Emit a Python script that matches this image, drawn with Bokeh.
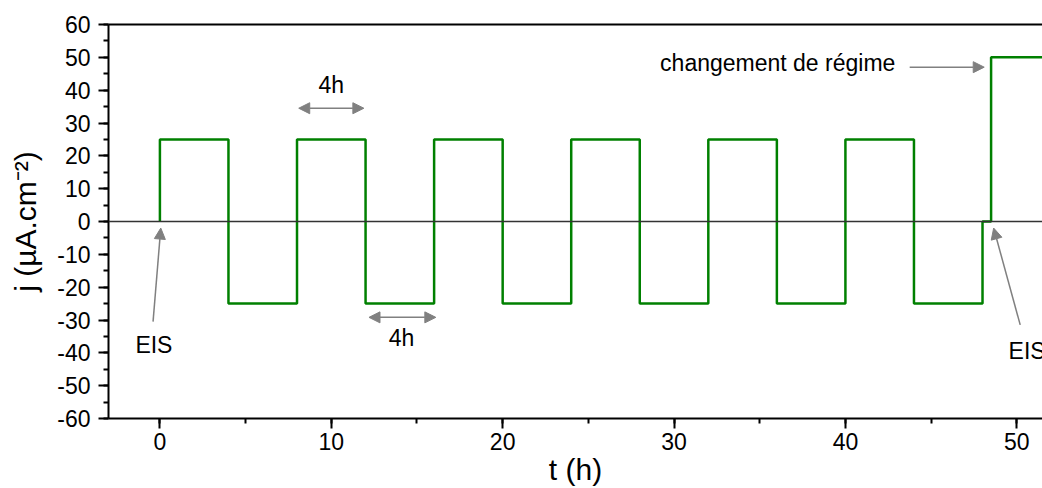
from bokeh.plotting import figure
from bokeh.models import (Range1d, SingleIntervalTicker, FixedTicker, LinearAxis, Arrow,
                          NormalHead, Label, Span, PrintfTickFormatter)
from bokeh.embed import file_html
from bokeh.resources import INLINE

# Data
times = [0, 0, 4, 8, 12, 16, 20, 24, 28, 32, 36, 40, 44, 48, 48.5, 53]
current = [0, 25, -25, 25, -25, 25, -25, 25, -25, 25, -25, 25, -25, 0, 50, 50]
x_ticks_interval = 10
y_ticks_interval = 10

FONT = "Liberation Sans"
GREEN = "#008000"
GREY = "#808080"

p = figure(width=1042, height=488, output_backend="svg", toolbar_location=None,
           x_range=Range1d(-3, 51.5), y_range=Range1d(-60, 60),
           min_border_left=108, min_border_right=0, min_border_top=24, min_border_bottom=69)
p.grid.visible = False
p.outline_line_color = None
p.background_fill_color = "white"

for ax, interval in ((p.xaxis[0], x_ticks_interval), (p.yaxis[0], y_ticks_interval)):
    ax.ticker = SingleIntervalTicker(interval=interval, num_minor_ticks=2)
    ax.formatter = PrintfTickFormatter(format="%d")
    ax.axis_line_width = 2
    ax.axis_line_color = "black"
    ax.major_tick_line_width = 2
    ax.minor_tick_line_width = 2
    ax.major_tick_in = 0
    ax.minor_tick_in = 0
    ax.major_tick_out = 10
    ax.minor_tick_out = 5
    ax.major_label_text_font = FONT
    ax.major_label_text_font_size = "23px"
    ax.major_label_text_color = "black"
    ax.axis_label_text_font = FONT
    ax.axis_label_text_font_size = "30px"
    ax.axis_label_text_font_style = "normal"
    ax.axis_label_text_color = "black"

p.xaxis[0].axis_label = "t (h)"
p.xaxis[0].axis_label_standoff = 0
p.xaxis[0].major_label_standoff = 4
p.yaxis[0].axis_label = "j (µA.cm⁻²)"
p.yaxis[0].axis_label_standoff = 12
p.yaxis[0].major_label_standoff = 8

top = LinearAxis(ticker=FixedTicker(ticks=[]), axis_line_width=2, axis_line_color="black",
                 major_tick_out=0, major_tick_in=0, minor_tick_out=0, minor_tick_in=0,
                 major_label_standoff=0)
p.add_layout(top, "above")

p.add_layout(Span(location=0, dimension="width", line_color="#333333", line_width=1.5))

p.step(times, current, mode="after", line_color=GREEN, line_width=2.5)

def arrow(x0, y0, x1, y1, both=False):
    end = NormalHead(size=11, fill_color=GREY, line_color=GREY)
    start = NormalHead(size=11, fill_color=GREY, line_color=GREY) if both else None
    p.add_layout(Arrow(x_start=x0, y_start=y0, x_end=x1, y_end=y1, end=end, start=start,
                       line_color=GREY, line_width=1.5))

def label(x, y, text):
    p.add_layout(Label(x=x, y=y, text=text, text_font=FONT, text_font_size="23px",
                       text_align="center", text_baseline="middle", text_color="black"))

arrow(8.1, 34.5, 11.9, 34.5, both=True)
label(10.0, 41.5, "4h")
arrow(12.2, -29.2, 16.1, -29.2, both=True)
label(14.1, -35.5, "4h")
arrow(-0.4, -30.5, 0.05, -2.0)
label(-0.35, -37.5, "EIS")
arrow(50.2, -31.5, 48.65, -2.0)
label(50.6, -39.5, "EIS")
arrow(43.75, 47.0, 48.1, 47.0)
label(36.05, 48.2, "changement de régime")

open("out.html", "w").write(file_html(p, INLINE))
